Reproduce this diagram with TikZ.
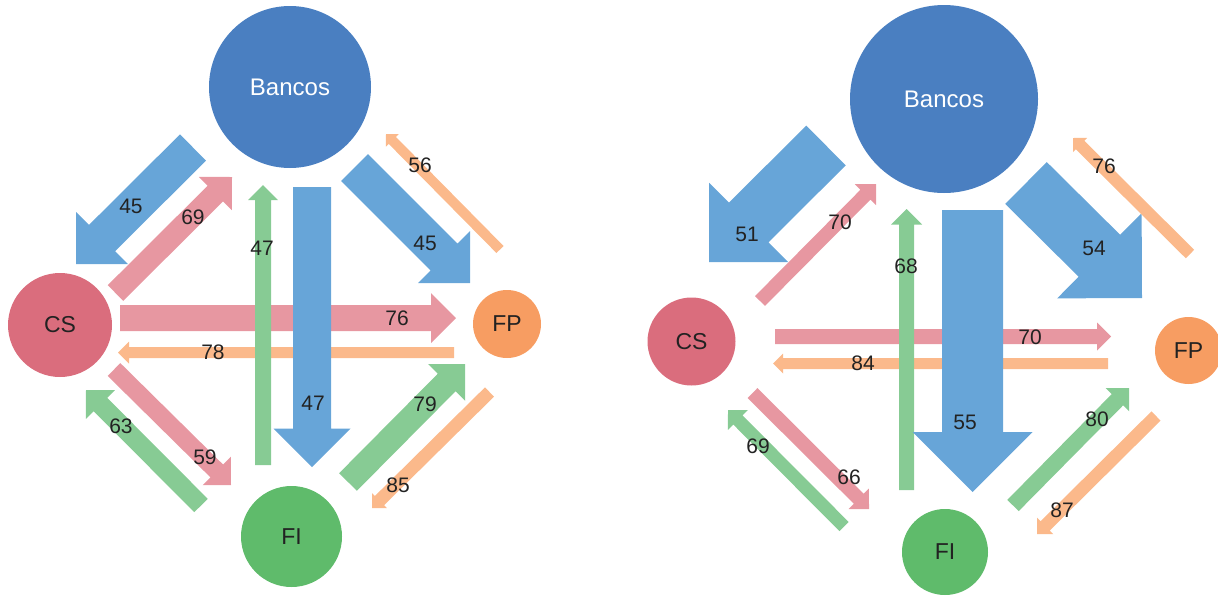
\documentclass[tikz,border=0pt]{standalone}
\usepackage{fontspec}
\setmainfont{Liberation Sans}
\usetikzlibrary{calc}

\definecolor{bankdark}{HTML}{4A7FC1}
\definecolor{bankflow}{HTML}{67A5D8}
\definecolor{csdark}{HTML}{DA6D7D}
\definecolor{csflow}{HTML}{E797A1}
\definecolor{fpdark}{HTML}{F79D62}
\definecolor{fpflow}{HTML}{FBB98B}
\definecolor{fidark}{HTML}{5FBB6B}
\definecolor{fiflow}{HTML}{87CB94}
\definecolor{ink}{HTML}{222222}

% block arrow: #1 fill, #2 tail coordinate, #3 tip coordinate,
% #4 shaft width, #5 head width (right-angled tip)
\newcommand\flowarrow[5]{%
  \pgfmathsetmacro\fw{#4/2}%
  \pgfmathsetmacro\fh{#5/2}%
  \coordinate (#2-base) at ($(#3)!\fh pt!(#2)$);
  \fill[#1] ($(#2)!\fw pt!90:(#3)$)
    -- ($(#2-base)!\fw pt!90:(#3)$)
    -- ($(#2-base)!\fh pt!90:(#3)$)
    -- (#3)
    -- ($(#2-base)!\fh pt!-90:(#3)$)
    -- ($(#2-base)!\fw pt!-90:(#3)$)
    -- ($(#2)!\fw pt!-90:(#3)$) -- cycle;
}

\tikzset{
  sector/.style={circle, inner sep=0pt, text=ink,
    font=\fontsize{23}{27}\selectfont},
  bank/.style={sector, fill=bankdark, text=white,
    font=\fontsize{24}{28}\selectfont},
  num/.style={inner sep=0pt, text=ink, font=\fontsize{21}{25}\selectfont},
}

\begin{document}
\begin{tikzpicture}[x=1pt, y=-1pt]
\useasboundingbox (0,0) rectangle (1218,595);

% ---------------- left network ----------------
\node[bank, minimum size=162pt] (LB) at (290,87) {Bancos};
\node[sector, fill=csdark, minimum size=104pt] (LCS) at (60,325) {CS};
\node[sector, fill=fpdark, minimum size=68pt] (LFP) at (507,324) {FP};
\node[sector, fill=fidark, minimum size=101pt] (LFI) at (291.5,536.5) {FI};

\coordinate (L1t) at (193,147.5);   \coordinate (L1h) at (76,264);
\coordinate (L2t) at (115.5,293);   \coordinate (L2h) at (232,177);
\coordinate (L5t) at (354.5,167.5); \coordinate (L5h) at (470,283);
\coordinate (L6t) at (500,249.5);   \coordinate (L6h) at (386,134);
\coordinate (L9t) at (201,505.5);   \coordinate (L9h) at (86,390);
\coordinate (L10t) at (114,369.5);  \coordinate (L10h) at (231,485);
\coordinate (L11t) at (348,482);    \coordinate (L11h) at (465,364);
\coordinate (L12t) at (489.5,392);  \coordinate (L12h) at (372,508);
\coordinate (L7t) at (120,318);     \coordinate (L7h) at (456,318);
\coordinate (L8t) at (454,352.5);   \coordinate (L8h) at (118,352.5);
\coordinate (L3t) at (263,465);     \coordinate (L3h) at (263,185);
\coordinate (L4t) at (312,187);     \coordinate (L4h) at (312,467);

\flowarrow{bankflow}{L1t}{L1h}{37}{73.5}
\flowarrow{csflow}{L2t}{L2h}{22}{47}
\flowarrow{bankflow}{L5t}{L5h}{38}{73.5}
\flowarrow{fpflow}{L6t}{L6h}{10}{18}
\flowarrow{fiflow}{L9t}{L9h}{19}{41}
\flowarrow{csflow}{L10t}{L10h}{18}{40}
\flowarrow{fiflow}{L11t}{L11h}{25}{52}
\flowarrow{fpflow}{L12t}{L12h}{13}{21}
\flowarrow{csflow}{L7t}{L7h}{26}{50}
\flowarrow{fpflow}{L8t}{L8h}{11}{22}
\flowarrow{fiflow}{L3t}{L3h}{16}{30}
\flowarrow{bankflow}{L4t}{L4h}{38}{77}

\node[num] (Ln1) at (131,206) {45};
\node[num] (Ln2) at (193,217) {69};
\node[num] (Ln3) at (262,248) {47};
\node[num] (Ln4) at (420,165) {56};
\node[num] (Ln5) at (425,243) {45};
\node[num] (Ln6) at (397,318) {76};
\node[num] (Ln7) at (213,352) {78};
\node[num] (Ln8) at (313,403) {47};
\node[num] (Ln9) at (425,404) {79};
\node[num] (Ln10) at (121,426) {63};
\node[num] (Ln11) at (205,457) {59};
\node[num] (Ln12) at (398,485) {85};

% ---------------- right network ----------------
\node[bank, minimum size=188pt] (RB) at (944,99) {Bancos};
\node[sector, fill=csdark, minimum size=88pt] (RCS) at (691.5,341.5) {CS};
\node[sector, fill=fpdark, minimum size=67pt] (RFP) at (1188.5,350.5) {FP};
\node[sector, fill=fidark, minimum size=86pt] (RFI) at (945,552) {FI};

\coordinate (R1t) at (826,145.5);   \coordinate (R1h) at (709,262);
\coordinate (R2t) at (760,301);     \coordinate (R2h) at (876,184);
\coordinate (R5t) at (1026,183);    \coordinate (R5h) at (1142,298);
\coordinate (R6t) at (1190,254);    \coordinate (R6h) at (1073,138);
\coordinate (R9t) at (844,526.5);   \coordinate (R9h) at (728,410);
\coordinate (R10t) at (752.5,393);  \coordinate (R10h) at (869,509);
\coordinate (R11t) at (1013,505.5); \coordinate (R11h) at (1129,388);
\coordinate (R12t) at (1156,416);   \coordinate (R12h) at (1037,534);
\coordinate (R7t) at (775,336.5);   \coordinate (R7h) at (1111,336.5);
\coordinate (R8t) at (1108,363.5);  \coordinate (R8h) at (773,363.5);
\coordinate (R3t) at (906.5,490);   \coordinate (R3h) at (906.5,209);
\coordinate (R4t) at (972.5,210);   \coordinate (R4h) at (972.5,492);

\flowarrow{bankflow}{R1t}{R1h}{56}{112}
\flowarrow{csflow}{R2t}{R2h}{14}{30}
\flowarrow{bankflow}{R5t}{R5h}{59}{120}
\flowarrow{fpflow}{R6t}{R6h}{12}{20}
\flowarrow{fiflow}{R9t}{R9h}{13}{28}
\flowarrow{csflow}{R10t}{R10h}{14}{29}
\flowarrow{fiflow}{R11t}{R11h}{16}{33}
\flowarrow{fpflow}{R12t}{R12h}{13}{23}
\flowarrow{csflow}{R7t}{R7h}{15}{28}
\flowarrow{fpflow}{R8t}{R8h}{11}{20}
\flowarrow{fiflow}{R3t}{R3h}{15}{31}
\flowarrow{bankflow}{R4t}{R4h}{61}{120}

\node[num] (Rn1) at (747,234) {51};
\node[num] (Rn2) at (840,222) {70};
\node[num] (Rn3) at (906,266) {68};
\node[num] (Rn4) at (1104,166) {76};
\node[num] (Rn5) at (1094,248) {54};
\node[num] (Rn6) at (1030,337) {70};
\node[num] (Rn7) at (863,363) {84};
\node[num] (Rn8) at (965,422) {55};
\node[num] (Rn9) at (1097,419) {80};
\node[num] (Rn10) at (758,446) {69};
\node[num] (Rn11) at (849,477) {66};
\node[num] (Rn12) at (1062,510) {87};
\end{tikzpicture}
\end{document}
